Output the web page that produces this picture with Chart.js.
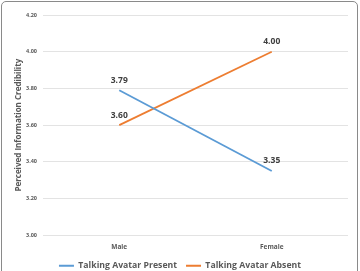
<!DOCTYPE html>
<html>
<head>
<meta charset="utf-8">
<script src="https://cdn.jsdelivr.net/npm/chart.js@4.4.0/dist/chart.umd.min.js"></script>
<style>
    html, body { margin: 0; padding: 0; background: #fff; overflow: hidden; }
    .frame {
        position: absolute; left: 1px; top: 1px;
        width: 355px; height: 300px;
        border: 1.5px solid #8a8a8a; border-radius: 5px;
    }
    .wrap { position: absolute; left: 0; top: 0; width: 360px; height: 280px; }
</style>
</head>
<body>
<div class="frame"></div>
<div class="wrap"><canvas id="chart" width="360" height="280"></canvas></div>
<script>
const categories = ['Male', 'Female'];
const avatarPresent = [3.79, 3.35];
const avatarAbsent = [3.60, 4.00];
const seriesNames = ['Talking Avatar Present', 'Talking Avatar Absent'];
const yTicks = [3.00, 3.20, 3.40, 3.60, 3.80, 4.00, 4.20];

const FONT = '"Open Sans", "DejaVu Sans", sans-serif';
const GRAY = '#595959';

// etiquetas de valor encima de cada punto
const valueLabels = {
    id: 'valueLabels',
    afterDatasetsDraw(chart) {
        const ctx = chart.ctx;
        ctx.save();
        ctx.font = 'bold 8.5px ' + FONT;
        ctx.fillStyle = '#404040';
        ctx.textAlign = 'center';
        ctx.textBaseline = 'middle';
        chart.data.datasets.forEach((ds, i) => {
            chart.getDatasetMeta(i).data.forEach((pt, j) => {
                ctx.fillText(ds.data[j].toFixed(2), pt.x, pt.y - 10);
            });
        });
        ctx.restore();
    }
};

new Chart(document.getElementById('chart'), {
    type: 'line',
    data: {
        labels: categories,
        datasets: [
            {
                label: seriesNames[0],
                data: avatarPresent,
                borderColor: '#5B9BD5',
                backgroundColor: '#5B9BD5',
                borderWidth: 1.8,
                pointRadius: 0,
                tension: 0
            },
            {
                label: seriesNames[1],
                data: avatarAbsent,
                borderColor: '#ED7D31',
                backgroundColor: '#ED7D31',
                borderWidth: 1.8,
                pointRadius: 0,
                tension: 0
            }
        ]
    },
    options: {
        responsive: false,
        animation: false,
        events: [],
        layout: { padding: { left: 0, right: 0, top: 15, bottom: 0 } },
        scales: {
            x: {
                offset: true,
                grid: { display: false, drawTicks: false, tickLength: 0 },
                border: { display: false },
                ticks: {
                    color: GRAY,
                    font: { family: FONT, size: 6.5, weight: 'bold' },
                    padding: 8,
                    autoSkip: false,
                    maxRotation: 0
                },
                afterFit(scale) { scale.height = 17; }
            },
            y: {
                min: 3.0,
                max: 4.2,
                afterBuildTicks(scale) {
                    scale.ticks = yTicks.map(v => ({ value: v }));
                },
                grid: { color: '#e3e3e3', lineWidth: 1, drawTicks: false },
                border: { display: false },
                ticks: {
                    color: GRAY,
                    font: { family: FONT, size: 5.5, weight: 'bold' },
                    padding: 6,
                    callback: v => Number(v).toFixed(2)
                },
                title: {
                    display: true,
                    text: 'Perceived Information Credibility',
                    color: GRAY,
                    font: { family: FONT, size: 8, weight: 'bold' },
                    padding: { top: 14, bottom: 0 }
                },
                afterFit(scale) { scale.width = 43; }
            },
            // eje vacío a la derecha, solo para dejar margen
            yRight: {
                position: 'right',
                display: true,
                grid: { display: false, drawTicks: false },
                border: { display: false },
                ticks: { display: false },
                afterFit(scale) { scale.width = 12; }
            }
        },
        plugins: {
            tooltip: { enabled: false },
            legend: {
                position: 'bottom',
                labels: {
                    color: GRAY,
                    font: { family: FONT, size: 8.7, weight: 'bold' },
                    boxWidth: 15,
                    boxHeight: 2,
                    padding: 9,
                    generateLabels(chart) {
                        const items = Chart.defaults.plugins.legend.labels.generateLabels(chart);
                        items.forEach(it => { it.lineWidth = 0; });
                        return items;
                    }
                }
            }
        }
    },
    plugins: [valueLabels]
});
</script>
</body>
</html>
